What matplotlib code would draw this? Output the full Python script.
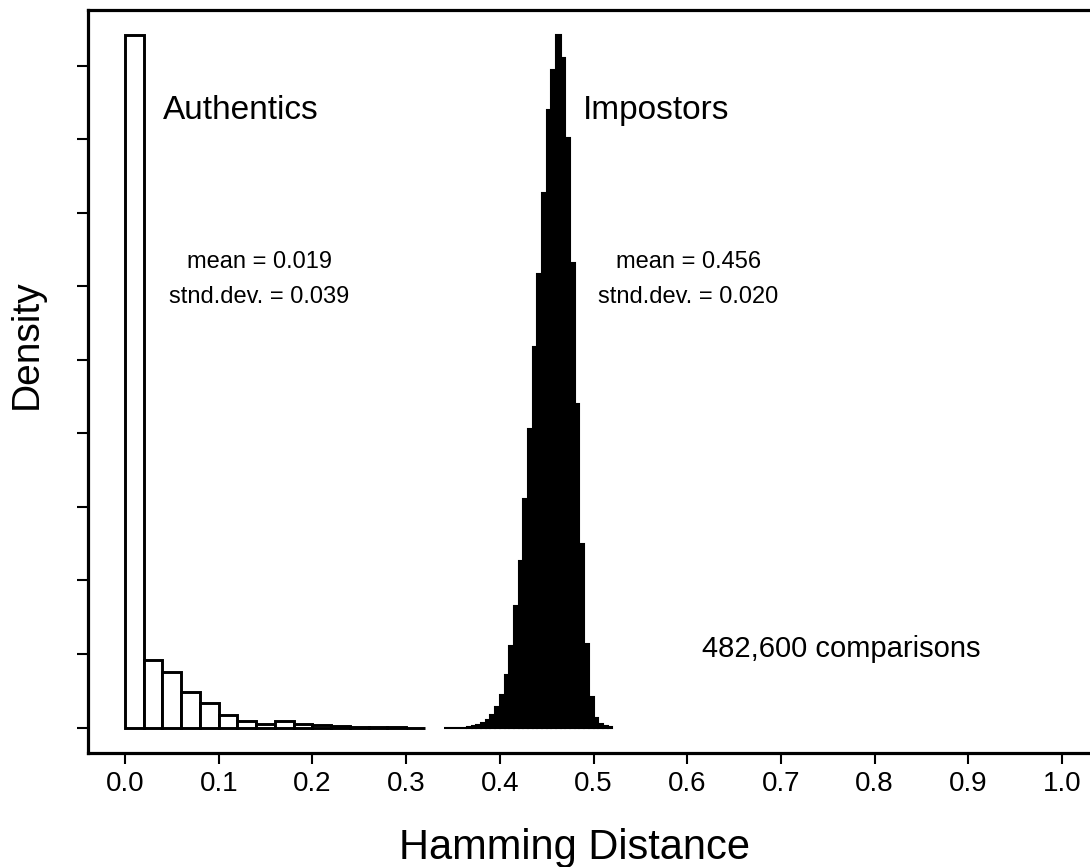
import numpy as np
import matplotlib.pyplot as plt

plt.rcParams['font.family'] = ['Liberation Sans', 'DejaVu Sans']

# authentics: bin width 0.02, density
auth_edges = np.arange(0.0, 0.32, 0.02)
auth_dens = [18.83, 1.84, 1.50, 0.97, 0.68, 0.33, 0.19, 0.10,
             0.17, 0.10, 0.06, 0.05, 0.02, 0.01, 0.01, 0.0]

# impostors: bin width 0.005
imp_edges = np.arange(0.340, 0.5175, 0.005)
imp_dens = [0.0, 0.0, 0.0, 0.0, 0.0, 0.01, 0.05, 0.08, 0.12, 0.21,
            0.33, 0.57, 0.89, 1.44, 2.23, 3.32, 4.54, 6.22, 8.13, 10.35,
            12.33, 14.53, 16.79, 17.88, 18.83, 18.20, 16.02, 12.62, 8.81, 5.00,
            2.28, 0.82, 0.27, 0.11, 0.05, 0.03]

xticks = np.arange(0.0, 1.01, 0.1)
yticks = np.arange(0, 19, 2)

fig = plt.figure(figsize=(10.9, 8.67), dpi=100)
ax = fig.add_axes([88 / 1090, 114 / 867, 1012 / 1090, 743 / 867])

ax.bar(auth_edges, auth_dens, width=0.02, align='edge',
       facecolor='white', edgecolor='black', linewidth=2.1)
ax.bar(imp_edges[:len(imp_dens)], imp_dens, width=0.005, align='edge',
       facecolor='black', edgecolor='black', linewidth=1.5)

ax.set_xlim(-0.0395, 1.0405)
ax.set_ylim(-0.69, 19.51)
ax.set_xticks(xticks)
ax.set_xticklabels([f'{t:.1f}' for t in xticks])
ax.set_yticks(yticks)
ax.set_yticklabels([])

for s in ax.spines.values():
    s.set_linewidth(2.3)
ax.tick_params(axis='both', direction='out', length=8, width=1.5, labelsize=20, pad=5)

ax.set_xlabel('Hamming Distance', fontsize=30)
ax.xaxis.set_label_coords(0.481, -0.101)
ax.set_ylabel('Density', fontsize=28)
ax.yaxis.set_label_coords(-0.0425, 0.55)

ax.text(0.0406, 16.79, 'Authentics', fontsize=24, va='center', ha='left')
ax.text(0.4888, 16.79, 'Impostors', fontsize=24, va='center', ha='left')

ax.text(0.143, 12.65, 'mean = 0.019', fontsize=17, ha='center', va='center')
ax.text(0.143, 11.70, 'stnd.dev. = 0.039', fontsize=17, ha='center', va='center')
ax.text(0.601, 12.65, 'mean = 0.456', fontsize=17, ha='center', va='center')
ax.text(0.601, 11.70, 'stnd.dev. = 0.020', fontsize=17, ha='center', va='center')

ax.text(0.6158, 2.15, '482,600 comparisons', fontsize=21, ha='left', va='center')

fig.savefig('out.png', dpi=100)
